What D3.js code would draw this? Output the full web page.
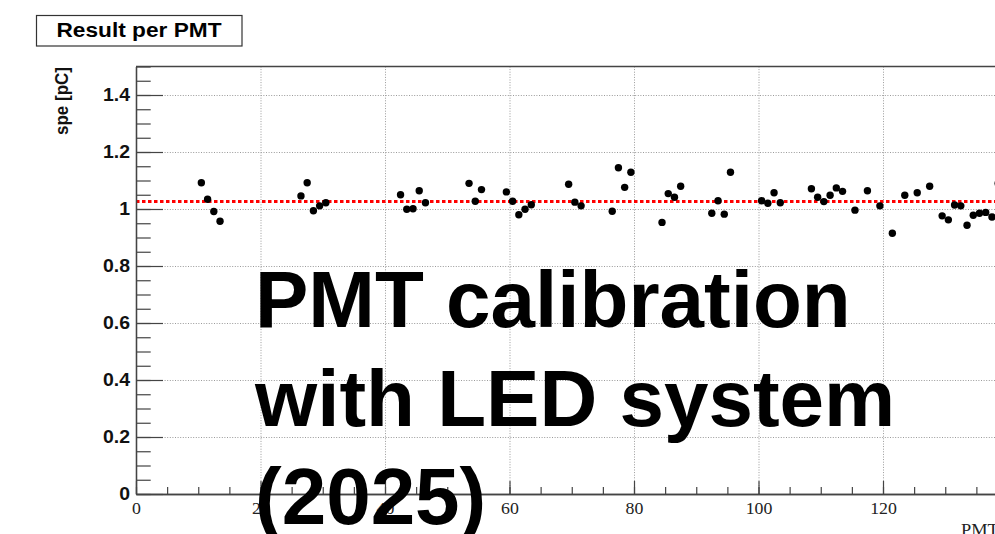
<!DOCTYPE html>
<html>
<head>
<meta charset="utf-8">
<script src="https://cdn.jsdelivr.net/npm/d3@7"></script>
<style>
  html, body { margin: 0; padding: 0; background: #fff; overflow: hidden; }
  svg { display: block; }
</style>
</head>
<body>
<svg id="chart" width="995" height="534"></svg>
<script>
// PMT channel numbers with a fitted single-photoelectron charge
const pmtIds = [10, 11, 12, 13, 26, 27, 28, 29, 30, 42, 43, 44, 45, 46,
  53, 54, 55, 59, 60, 61, 62, 63, 69, 70, 71, 76, 77, 78, 79,
  84, 85, 86, 87, 92, 93, 94, 95, 100, 101, 102, 103,
  108, 109, 110, 111, 112, 113, 115, 117, 119, 121, 123, 125, 127,
  129, 130, 131, 132, 133, 134, 135, 136, 137, 138];
// spe charge [pC] per PMT
const speValues = [1.092, 1.034, 0.991, 0.957, 1.046, 1.092, 0.994, 1.011, 1.022,
  1.050, 0.999, 1.001, 1.064, 1.022,
  1.090, 1.027, 1.068, 1.060, 1.027, 0.980, 0.999, 1.015, 1.087, 1.024, 1.011,
  0.992, 1.145, 1.076, 1.129,
  0.953, 1.054, 1.041, 1.080, 0.985, 1.029, 0.982, 1.129, 1.029, 1.020, 1.057, 1.022,
  1.071, 1.041, 1.026, 1.048, 1.074, 1.062, 0.996, 1.064, 1.011, 0.915, 1.048, 1.057, 1.080,
  0.976, 0.962, 1.014, 1.011, 0.943, 0.978, 0.985, 0.988, 0.972, 1.090];
// mean spe charge over all PMTs
const meanSpe = 1.026;

const xTicks = [0, 20, 40, 60, 80, 100, 120, 140];
const yTicks = [0, 0.2, 0.4, 0.6, 0.8, 1.0, 1.2, 1.4];
const xMinorStep = 5;
const yMinorStep = 0.05;

const titleText = "Result per PMT";
const yTitle = "spe [pC]";
const xTitle = "PMT";
const headline = ["PMT calibration", "with LED system", "(2025)"];

const svg = d3.select("#chart");
const SX = 1.08; // horizontal stretch of the canvas text

const x = d3.scaleLinear().domain([0, 150]).range([136, 136 + 150 * 6.225]);
const y = d3.scaleLinear().domain([0, 1.5]).range([494, 494 - 1.5 * 285]);

svg.append("rect").attr("width", 995).attr("height", 534).attr("fill", "#fff");

// dotted grid
const grid = svg.append("g").attr("stroke", "#9a9a9a").attr("stroke-width", 1)
  .attr("stroke-dasharray", "1,1.6");
grid.selectAll("line.gx").data(xTicks.filter(d => d > 0)).join("line")
  .attr("x1", d => x(d) + 0.5).attr("x2", d => x(d) + 0.5)
  .attr("y1", y(1.5)).attr("y2", y(0));
grid.selectAll("line.gy").data(yTicks.filter(d => d > 0)).join("line")
  .attr("x1", x(0)).attr("x2", x(150))
  .attr("y1", d => y(d) + 0.5).attr("y2", d => y(d) + 0.5);

// mean line
svg.append("line")
  .attr("x1", x(0)).attr("x2", x(150))
  .attr("y1", y(meanSpe)).attr("y2", y(meanSpe))
  .attr("stroke", "#ff0000").attr("stroke-width", 3)
  .attr("stroke-dasharray", "3.5,2.5");

// points, plotted at bin centres
const pts = pmtIds.map((id, i) => ({ id, v: speValues[i] }));
svg.append("g").selectAll("circle").data(pts).join("circle")
  .attr("cx", d => x(d.id + 0.5)).attr("cy", d => y(d.v))
  .attr("r", 3.7).attr("fill", "#000");

const axisColor = "#444";
const yMinor = d3.range(0, 1.5001, yMinorStep).map(v => +v.toFixed(2));
const xMinor = d3.range(0, 150.001, xMinorStep);

// y axis: minor and major ticks pointing into the frame
const yMinorAxis = d3.axisLeft(y).tickValues(yMinor).tickSizeInner(-14.7).tickSizeOuter(0).tickFormat("");
const gyMinor = svg.append("g").attr("transform", `translate(${x(0)},0)`).call(yMinorAxis);
const yAxis = d3.axisLeft(y).tickValues(yTicks).tickSizeInner(-27).tickSizeOuter(0)
  .tickPadding(5.5).tickFormat(d => String(+d.toFixed(1)));
const gy = svg.append("g").attr("transform", `translate(${x(0)},0)`).call(yAxis);

// x axis
const xMinorAxis = d3.axisBottom(x).tickValues(xMinor).tickSizeInner(-7).tickSizeOuter(0).tickFormat("");
const gxMinor = svg.append("g").attr("transform", `translate(0,${y(0)})`).call(xMinorAxis);
const xAxis = d3.axisBottom(x).tickValues(xTicks).tickSizeInner(-13).tickSizeOuter(0)
  .tickPadding(8.3).tickFormat(d => String(d));
const gx = svg.append("g").attr("transform", `translate(0,${y(0)})`).call(xAxis);

[gyMinor, gy, gxMinor, gx].forEach(g => {
  g.selectAll("path.domain").attr("stroke", axisColor).attr("stroke-width", 1.3);
  g.selectAll(".tick line").attr("stroke", axisColor).attr("stroke-width", 1.2);
});
gy.selectAll(".tick text")
  .attr("font-family", "'Liberation Sans', Arial, sans-serif")
  .attr("font-weight", "bold").attr("font-size", 18).attr("fill", "#111")
  .attr("transform", `scale(${SX},1)`);
gx.selectAll(".tick text")
  .attr("font-family", "'Liberation Serif', 'Times New Roman', serif")
  .attr("font-size", 16.5).attr("fill", "#222")
  .attr("transform", `scale(${SX},1)`);

// top edge of the frame
svg.append("line").attr("x1", x(0)).attr("x2", x(150))
  .attr("y1", y(1.5)).attr("y2", y(1.5))
  .attr("stroke", axisColor).attr("stroke-width", 1.3);

// axis titles
svg.append("text").text(yTitle)
  .attr("transform", `translate(68,67) scale(${SX},1) rotate(-90)`)
  .attr("text-anchor", "end")
  .attr("font-family", "'Liberation Sans', Arial, sans-serif")
  .attr("font-weight", "bold").attr("font-size", 17).attr("fill", "#111");
svg.append("text").text(xTitle)
  .attr("transform", `translate(961,534.5) scale(${SX},1)`)
  .attr("font-family", "'Liberation Serif', 'Times New Roman', serif")
  .attr("font-size", 17).attr("fill", "#222");

// title box
svg.append("rect").attr("x", 36.5).attr("y", 15.5).attr("width", 205.5).attr("height", 30.5)
  .attr("fill", "#fff").attr("stroke", "#333").attr("stroke-width", 1.2);
svg.append("text").text(titleText)
  .attr("transform", `translate(139,37) scale(${SX},1)`)
  .attr("text-anchor", "middle")
  .attr("font-family", "'Liberation Sans', Arial, sans-serif")
  .attr("font-weight", "bold").attr("font-size", 21).attr("fill", "#000");

// headline over the plot
svg.append("g").selectAll("text").data(headline).join("text")
  .attr("x", 255).attr("y", (d, i) => 327 + i * 98.5)
  .attr("font-family", "'Liberation Sans', Helvetica, Arial, sans-serif")
  .attr("font-weight", "bold").attr("font-size", 80).attr("fill", "#000")
  .text(d => d);
</script>
</body>
</html>
